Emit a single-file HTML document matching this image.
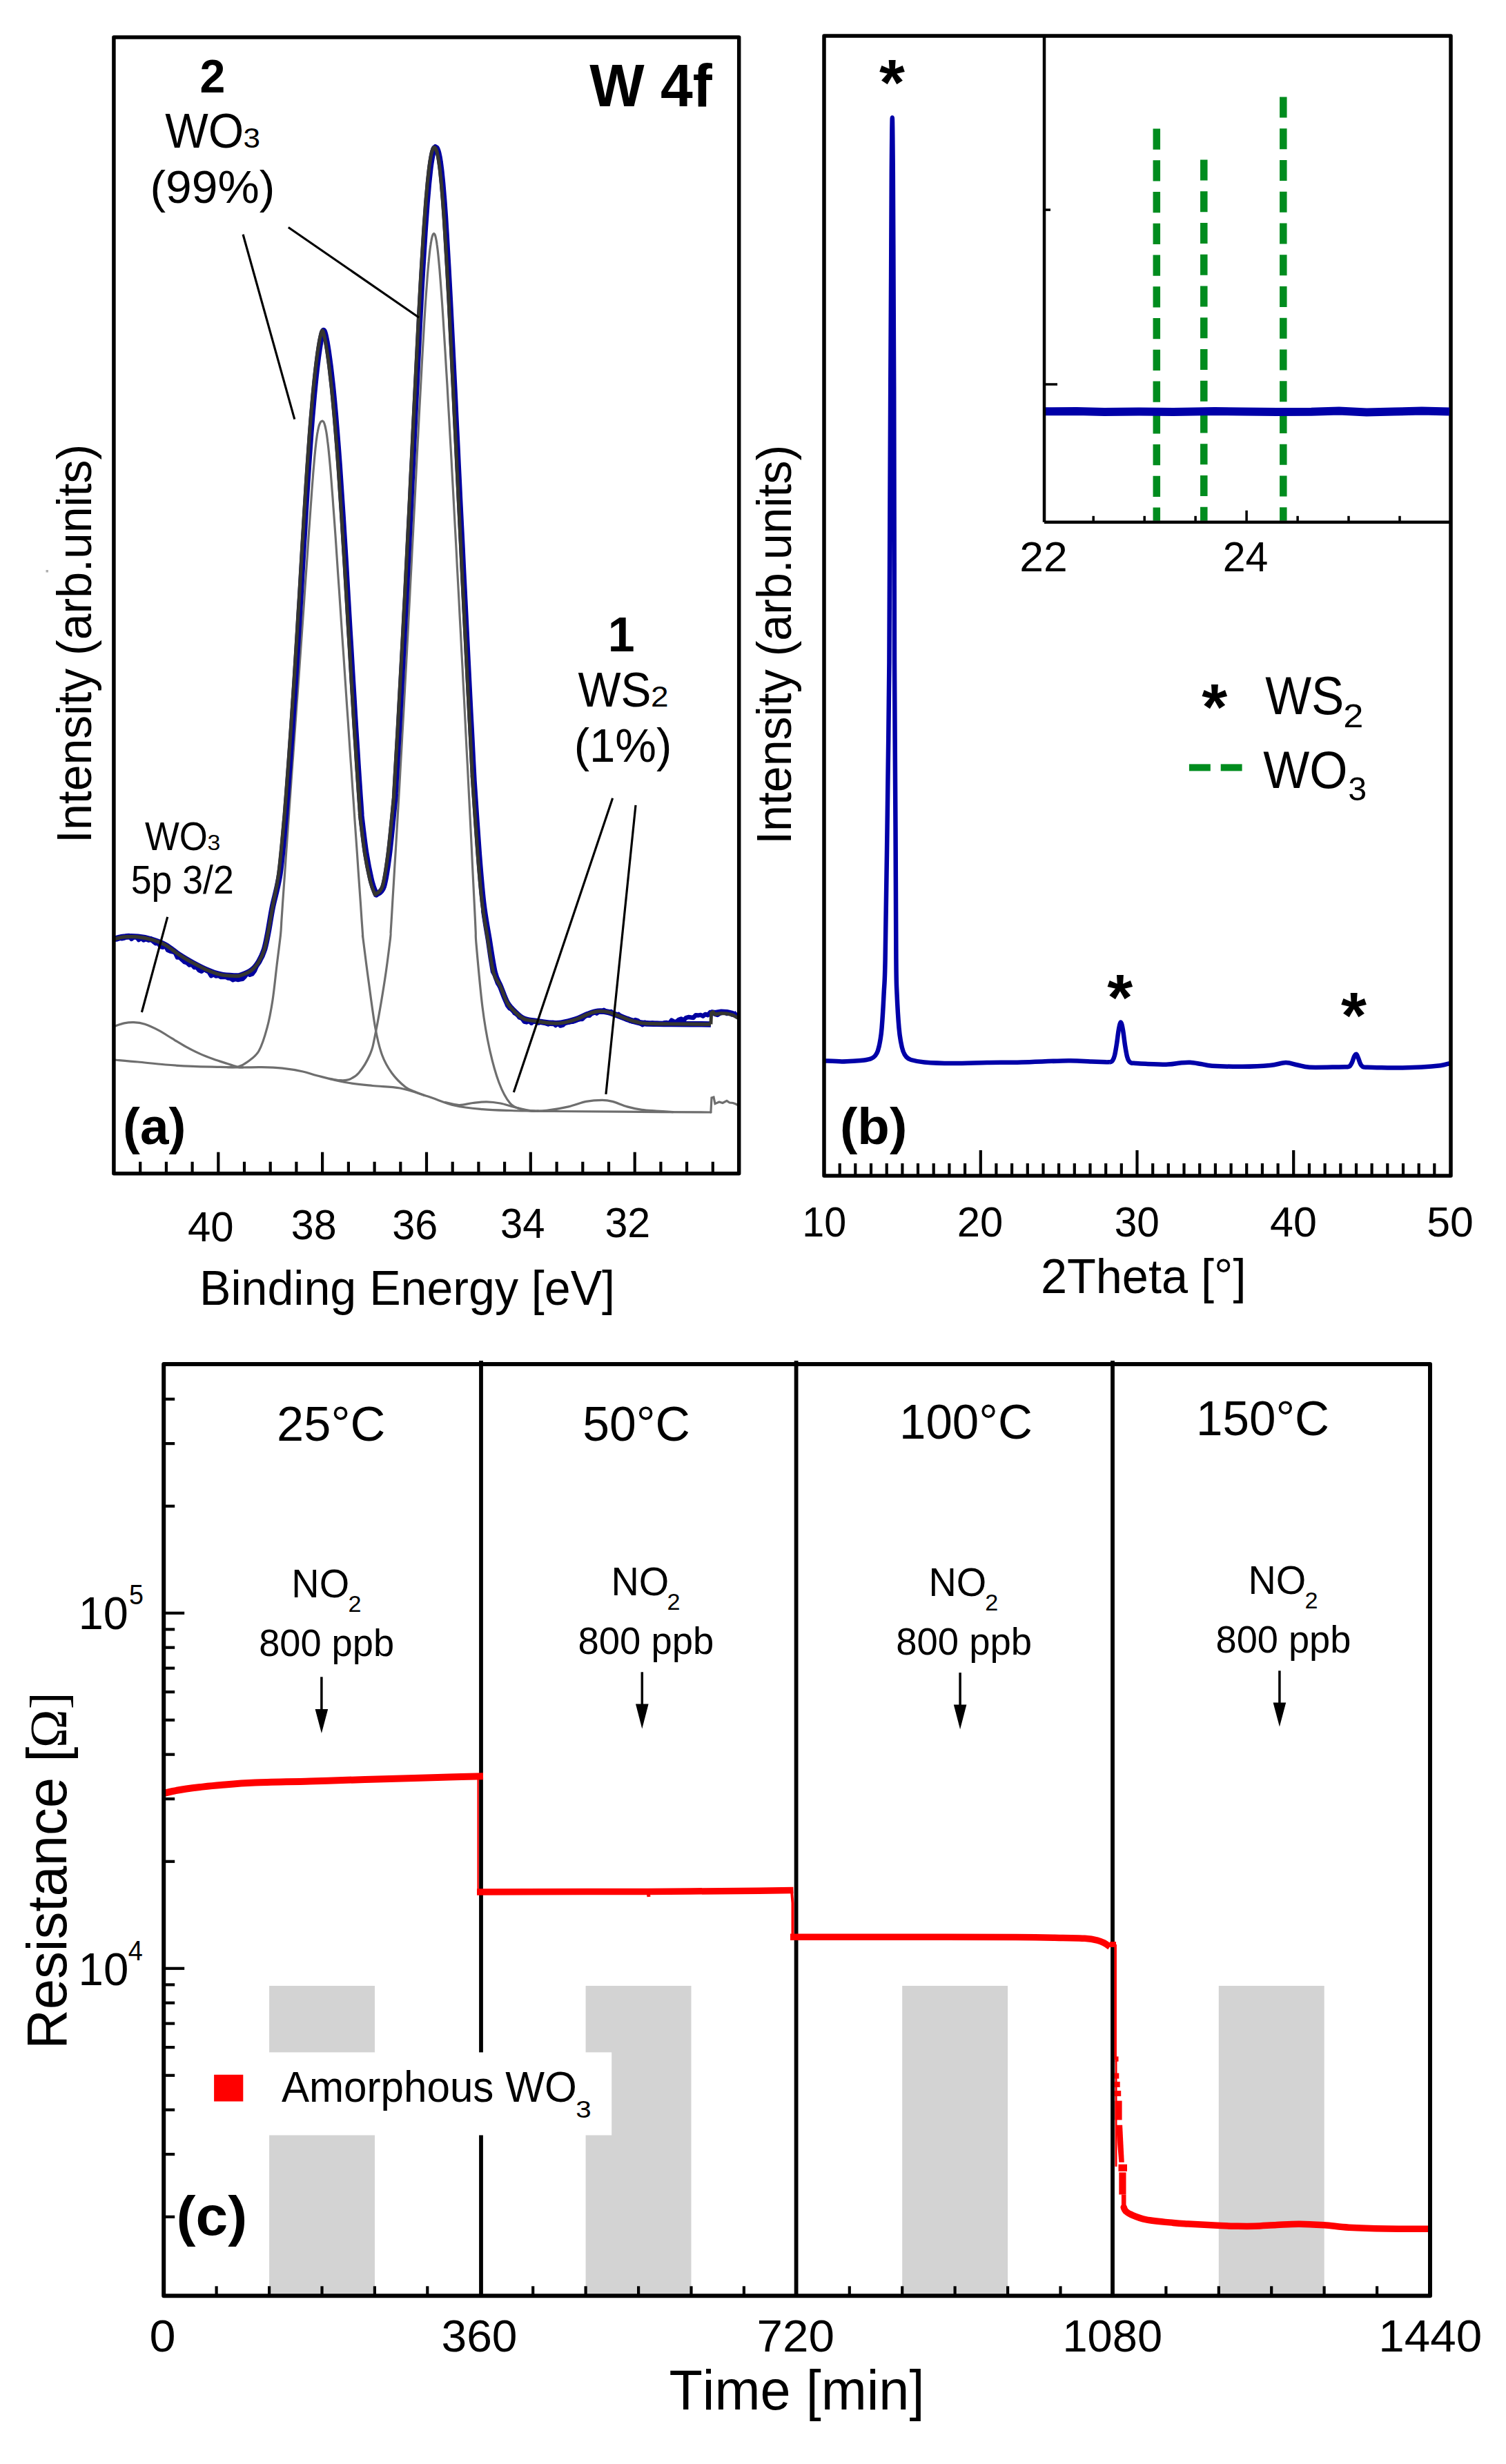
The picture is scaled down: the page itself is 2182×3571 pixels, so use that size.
<!DOCTYPE html>
<html><head><meta charset="utf-8"><title>Figure</title>
<style>html,body{margin:0;padding:0;background:#fff;}svg{display:block;}text{font-kerning:none;}</style></head>
<body><svg width="2182" height="3571" viewBox="0 0 2182 3571" font-family="Liberation Sans, Arial, sans-serif" fill="#000">
<rect width="2182" height="3571" fill="#fff"/>
<g fill="none" stroke="#6e6e6e" stroke-width="3.2" stroke-linecap="round">
<path d="M166.0,1536.0 C171.6,1536.5 187.5,1537.8 199.8,1539.0 C212.1,1540.2 226.4,1541.9 239.7,1543.0 C253.0,1544.1 266.2,1544.8 279.5,1545.4 C292.8,1546.0 308.4,1546.1 319.4,1546.4 C330.4,1546.7 335.4,1547.0 345.3,1547.0 C355.2,1547.0 368.4,1546.4 379.0,1546.6 C389.6,1546.8 399.0,1547.1 409.0,1548.2 C419.0,1549.3 430.4,1551.2 438.9,1553.0 C447.4,1554.8 449.9,1556.4 460.0,1559.0 C470.1,1561.6 486.5,1566.1 499.8,1568.5 C513.1,1570.9 526.4,1572.1 539.7,1573.5 C553.0,1574.9 566.2,1574.5 579.5,1577.0 C592.8,1579.5 606.1,1584.6 619.4,1588.8 C632.7,1593.0 645.9,1599.2 659.2,1602.3 C672.5,1605.4 685.5,1606.4 699.0,1607.6 C712.5,1608.8 723.2,1609.0 740.0,1609.5 C756.8,1610.0 773.3,1610.2 800.0,1610.5 C826.7,1610.8 861.7,1611.0 900.0,1611.2 C938.3,1611.5 1008.3,1611.9 1029.9,1612.0"/>
<path d="M1029.9,1612 L1031,1591 L1034,1590 L1036,1599.6 L1042,1597 L1047,1598.5 L1053,1595.4 L1057,1598 L1062,1598.5 L1066,1600 L1069,1601.7"/>
<path d="M166.0,1487.3 C168.3,1486.6 175.2,1483.8 179.9,1482.9 C184.6,1482.0 188.9,1481.5 193.9,1481.7 C198.9,1481.9 203.8,1482.4 209.8,1484.3 C215.8,1486.2 223.1,1489.7 229.7,1493.2 C236.3,1496.7 242.9,1501.2 249.6,1505.2 C256.2,1509.2 263.0,1513.4 269.6,1517.1 C276.2,1520.8 282.9,1524.1 289.5,1527.1 C296.1,1530.1 302.8,1532.6 309.4,1535.0 C316.0,1537.4 323.4,1539.6 329.3,1541.5 C335.2,1543.4 341.2,1545.6 345.0,1546.5 C348.8,1547.4 350.8,1546.8 352.0,1546.9"/>
<path d="M330.0,1546.6 C332.5,1546.5 340.1,1547.4 345.0,1546.0 C349.9,1544.6 354.2,1542.3 359.2,1538.5 C364.2,1534.7 370.5,1531.2 375.1,1523.0 C379.8,1514.8 383.8,1501.5 387.1,1489.2 C390.4,1476.9 392.7,1464.3 395.0,1449.4 C397.3,1434.5 399.1,1415.3 401.0,1399.6 C402.9,1383.9 405.3,1365.9 406.5,1355.0 C407.6,1344.1 407.4,1341.5 407.9,1334.0 C408.4,1326.5 409.0,1318.0 409.5,1310.0 C410.1,1302.0 410.6,1294.0 411.2,1286.0 C411.7,1278.0 412.3,1270.0 412.9,1262.0 C413.4,1254.0 414.0,1246.0 414.5,1238.0 C415.1,1230.0 415.6,1222.0 416.2,1214.0 C416.8,1206.0 417.3,1198.0 417.9,1190.0 C418.5,1182.0 419.0,1174.0 419.6,1166.0 C420.2,1158.0 420.7,1150.0 421.3,1142.0 C421.9,1134.0 422.5,1126.0 423.0,1118.0 C423.6,1110.0 424.2,1102.0 424.8,1094.0 C425.3,1086.0 425.9,1078.0 426.5,1070.0 C427.1,1062.0 427.6,1054.0 428.2,1046.0 C428.8,1038.0 429.4,1030.0 429.9,1022.0 C430.5,1014.0 431.1,1006.0 431.7,998.0 C432.2,990.0 432.8,982.0 433.4,974.0 C433.9,966.0 434.5,958.0 435.1,950.0 C435.6,942.0 436.2,934.0 436.8,926.0 C437.4,918.0 437.9,910.0 438.5,902.0 C439.0,894.0 439.6,886.0 440.2,878.0 C440.7,870.0 441.3,862.0 441.8,854.0 C442.4,846.0 443.0,838.0 443.5,830.0 C444.1,822.0 444.6,814.0 445.2,806.0 C445.7,798.0 446.3,790.0 446.8,782.0 C447.4,774.0 447.9,766.0 448.5,758.0 C449.1,750.0 449.6,742.0 450.2,734.0 C450.8,726.0 451.4,717.0 451.9,710.0 C452.4,703.0 452.8,697.7 453.3,692.0 C453.7,686.3 454.1,681.0 454.6,676.0 C455.0,671.0 455.4,666.3 455.8,662.0 C456.2,657.7 456.6,653.7 457.0,650.0 C457.4,646.3 457.8,643.0 458.1,640.0 C458.5,637.0 458.9,634.3 459.2,632.0 C459.5,629.7 459.8,627.8 460.2,626.0 C460.5,624.2 460.9,622.5 461.2,621.0 C461.5,619.5 461.9,618.2 462.2,617.0 C462.6,615.8 463.0,614.8 463.3,614.0 C463.7,613.2 464.0,612.5 464.3,612.0 C464.6,611.5 464.6,611.3 465.1,611.0 C465.6,610.7 466.8,610.2 467.1,610.0 C467.4,610.2 468.2,610.7 468.6,611.0 C469.0,611.3 469.0,611.5 469.2,612.0 C469.4,612.5 469.7,613.2 470.0,614.0 C470.3,614.8 470.6,615.8 470.9,617.0 C471.2,618.2 471.5,619.5 471.8,621.0 C472.1,622.5 472.5,624.2 472.8,626.0 C473.1,627.8 473.4,629.7 473.7,632.0 C474.0,634.3 474.4,637.0 474.7,640.0 C475.1,643.0 475.5,646.3 475.9,650.0 C476.3,653.7 476.7,657.7 477.1,662.0 C477.5,666.3 477.9,671.0 478.4,676.0 C478.8,681.0 479.3,686.3 479.7,692.0 C480.2,697.7 480.6,703.0 481.1,710.0 C481.7,717.0 482.4,726.0 482.9,734.0 C483.5,742.0 484.1,750.0 484.7,758.0 C485.2,766.0 485.8,774.0 486.4,782.0 C486.9,790.0 487.5,798.0 488.0,806.0 C488.6,814.0 489.1,822.0 489.6,830.0 C490.2,838.0 490.7,846.0 491.3,854.0 C491.8,862.0 492.4,870.0 492.9,878.0 C493.4,886.0 494.0,894.0 494.5,902.0 C495.0,910.0 495.6,918.0 496.1,926.0 C496.7,934.0 497.2,942.0 497.8,950.0 C498.3,958.0 498.8,966.0 499.4,974.0 C499.9,982.0 500.5,990.0 501.0,998.0 C501.5,1006.0 502.1,1014.0 502.6,1022.0 C503.2,1030.0 503.7,1038.0 504.3,1046.0 C504.8,1054.0 505.4,1062.0 505.9,1070.0 C506.4,1078.0 507.0,1086.0 507.5,1094.0 C508.1,1102.0 508.6,1110.0 509.2,1118.0 C509.7,1126.0 510.3,1134.0 510.8,1142.0 C511.4,1150.0 511.9,1158.0 512.5,1166.0 C513.0,1174.0 513.6,1182.0 514.1,1190.0 C514.7,1198.0 515.3,1206.0 515.8,1214.0 C516.4,1222.0 516.9,1230.0 517.5,1238.0 C518.0,1246.0 518.6,1254.0 519.1,1262.0 C519.7,1270.0 520.2,1278.0 520.8,1286.0 C521.4,1294.0 521.9,1302.0 522.5,1310.0 C523.0,1318.0 523.6,1326.0 524.1,1334.0 C524.7,1342.0 525.5,1353.7 525.8,1358.0 C526.1,1362.3 524.6,1349.8 526.0,1360.0 C527.3,1370.2 530.7,1398.0 533.7,1419.5 C536.7,1441.0 540.4,1471.0 543.7,1489.2 C547.0,1507.5 549.6,1518.0 553.6,1529.0 C557.6,1540.0 562.0,1547.2 567.6,1555.0 C573.2,1562.8 581.6,1570.8 587.5,1575.5 C593.4,1580.2 598.4,1581.0 603.0,1582.9 C607.6,1584.9 613.0,1586.7 615.0,1587.5" stroke-linejoin="round"/>
<path d="M478.0,1563.3 C480.3,1563.7 487.4,1565.4 492.0,1565.6 C496.6,1565.8 501.2,1566.3 505.8,1564.5 C510.4,1562.7 514.8,1560.9 519.8,1555.0 C524.8,1549.1 531.7,1538.3 535.7,1529.0 C539.7,1519.7 540.1,1517.5 543.7,1499.2 C547.4,1481.0 554.0,1442.7 557.6,1419.5 C561.2,1396.3 564.1,1371.5 565.5,1360.0 C566.9,1348.5 565.8,1356.1 566.1,1350.5 C566.5,1344.9 567.1,1334.5 567.6,1326.5 C568.1,1318.5 568.6,1310.5 569.0,1302.5 C569.5,1294.5 570.0,1286.5 570.5,1278.5 C571.0,1270.5 571.5,1262.5 571.9,1254.5 C572.4,1246.5 572.9,1238.5 573.4,1230.5 C573.8,1222.5 574.3,1214.5 574.8,1206.5 C575.2,1198.5 575.7,1190.5 576.2,1182.5 C576.6,1174.5 577.1,1166.5 577.6,1158.5 C578.0,1150.5 578.5,1142.5 579.0,1134.5 C579.4,1126.5 579.9,1118.5 580.3,1110.5 C580.8,1102.5 581.2,1094.5 581.7,1086.5 C582.1,1078.5 582.6,1070.5 583.0,1062.5 C583.5,1054.5 583.9,1046.5 584.4,1038.5 C584.8,1030.5 585.2,1022.5 585.7,1014.5 C586.1,1006.5 586.5,998.5 587.0,990.5 C587.4,982.5 587.8,974.5 588.3,966.5 C588.7,958.5 589.1,950.5 589.6,942.5 C590.0,934.5 590.4,926.5 590.9,918.5 C591.3,910.5 591.7,902.5 592.1,894.5 C592.6,886.5 593.0,878.5 593.4,870.5 C593.8,862.5 594.2,854.5 594.6,846.5 C595.1,838.5 595.5,830.5 595.9,822.5 C596.3,814.5 596.7,806.5 597.1,798.5 C597.6,790.5 598.0,782.5 598.4,774.5 C598.8,766.5 599.2,758.5 599.6,750.5 C600.0,742.5 600.4,734.5 600.9,726.5 C601.3,718.5 601.7,710.5 602.1,702.5 C602.5,694.5 602.9,686.5 603.3,678.5 C603.7,670.5 604.1,662.5 604.5,654.5 C605.0,646.5 605.4,638.5 605.8,630.5 C606.2,622.5 606.6,614.5 607.0,606.5 C607.4,598.5 607.9,590.5 608.3,582.5 C608.7,574.5 609.1,566.5 609.6,558.5 C610.0,550.5 610.4,542.5 610.9,534.5 C611.3,526.5 611.7,518.5 612.2,510.5 C612.6,502.5 613.1,494.5 613.6,486.5 C614.0,478.5 614.5,470.5 615.0,462.5 C615.5,454.5 616.1,445.5 616.5,438.5 C617.0,431.5 617.4,426.2 617.8,420.5 C618.2,414.8 618.6,409.5 619.0,404.5 C619.3,399.5 619.7,394.8 620.1,390.5 C620.5,386.2 620.8,382.2 621.2,378.5 C621.5,374.8 621.9,371.5 622.2,368.5 C622.5,365.5 622.8,362.8 623.1,360.5 C623.4,358.2 623.7,356.3 624.0,354.5 C624.2,352.7 624.5,351.0 624.8,349.5 C625.0,348.0 625.3,346.7 625.6,345.5 C625.8,344.3 626.1,343.3 626.3,342.5 C626.6,341.7 626.8,341.0 627.0,340.5 C627.2,340.0 627.2,339.8 627.5,339.5 C627.8,339.2 628.5,338.7 628.7,338.5 C628.9,338.7 629.5,339.2 629.8,339.5 C630.1,339.8 630.1,340.0 630.2,340.5 C630.4,341.0 630.7,341.7 630.9,342.5 C631.1,343.3 631.4,344.3 631.6,345.5 C631.8,346.7 632.1,348.0 632.4,349.5 C632.6,351.0 632.9,352.7 633.1,354.5 C633.4,356.3 633.6,358.2 633.9,360.5 C634.2,362.8 634.5,365.5 634.8,368.5 C635.1,371.5 635.4,374.8 635.8,378.5 C636.1,382.2 636.5,386.2 636.9,390.5 C637.2,394.8 637.6,399.5 638.0,404.5 C638.4,409.5 638.8,414.8 639.2,420.5 C639.6,426.2 640.0,431.5 640.5,438.5 C641.0,445.5 641.6,454.5 642.1,462.5 C642.6,470.5 643.1,478.5 643.6,486.5 C644.1,494.5 644.6,502.5 645.1,510.5 C645.6,518.5 646.1,526.5 646.5,534.5 C647.0,542.5 647.5,550.5 648.0,558.5 C648.4,566.5 648.9,574.5 649.3,582.5 C649.8,590.5 650.2,598.5 650.7,606.5 C651.1,614.5 651.6,622.5 652.0,630.5 C652.5,638.5 652.9,646.5 653.4,654.5 C653.8,662.5 654.3,670.5 654.7,678.5 C655.1,686.5 655.6,694.5 656.0,702.5 C656.4,710.5 656.9,718.5 657.3,726.5 C657.7,734.5 658.2,742.5 658.6,750.5 C659.0,758.5 659.5,766.5 659.9,774.5 C660.3,782.5 660.7,790.5 661.2,798.5 C661.6,806.5 662.0,814.5 662.4,822.5 C662.9,830.5 663.3,838.5 663.7,846.5 C664.1,854.5 664.6,862.5 665.0,870.5 C665.4,878.5 665.8,886.5 666.2,894.5 C666.6,902.5 667.1,910.5 667.5,918.5 C667.9,926.5 668.3,934.5 668.7,942.5 C669.2,950.5 669.6,958.5 670.0,966.5 C670.4,974.5 670.8,982.5 671.2,990.5 C671.6,998.5 672.0,1006.5 672.5,1014.5 C672.9,1022.5 673.3,1030.5 673.7,1038.5 C674.1,1046.5 674.5,1054.5 674.9,1062.5 C675.3,1070.5 675.7,1078.5 676.1,1086.5 C676.5,1094.5 676.9,1102.5 677.4,1110.5 C677.8,1118.5 678.2,1126.5 678.6,1134.5 C679.0,1142.5 679.4,1150.5 679.8,1158.5 C680.2,1166.5 680.6,1174.5 681.0,1182.5 C681.4,1190.5 681.8,1198.5 682.2,1206.5 C682.6,1214.5 683.0,1222.5 683.4,1230.5 C683.7,1238.5 684.1,1246.5 684.5,1254.5 C684.9,1262.5 685.3,1270.5 685.7,1278.5 C686.1,1286.5 686.5,1294.5 686.9,1302.5 C687.3,1310.5 687.7,1318.5 688.1,1326.5 C688.5,1334.5 688.9,1343.2 689.2,1350.5 C689.6,1357.8 688.6,1351.8 690.2,1370.0 C691.8,1388.2 695.9,1434.6 699.0,1459.4 C702.1,1484.2 705.0,1500.7 709.0,1519.0 C713.0,1537.3 718.0,1555.7 723.0,1569.0 C728.0,1582.3 733.6,1592.4 738.9,1598.8 C744.2,1605.2 749.0,1605.6 755.0,1607.5 C761.0,1609.4 771.7,1609.7 775.0,1610.1" stroke-linejoin="round"/>
<path d="M645.0,1597.5 C648.3,1598.2 658.3,1601.3 665.0,1601.5 C671.7,1601.7 678.3,1599.3 685.0,1598.5 C691.7,1597.7 698.3,1596.7 705.0,1596.8 C711.7,1596.9 718.3,1597.7 725.0,1599.0 C731.7,1600.3 737.8,1602.7 745.0,1604.5 C752.2,1606.3 762.2,1608.7 768.0,1609.7 C773.8,1610.6 778.0,1610.1 780.0,1610.2"/>
<path d="M770.0,1610.0 C773.6,1609.9 782.9,1610.4 791.9,1609.4 C800.9,1608.4 814.2,1606.1 823.7,1603.9 C833.2,1601.7 841.1,1598.0 849.2,1596.4 C857.4,1594.8 866.2,1594.3 872.6,1594.3 C879.0,1594.3 881.5,1594.8 887.5,1596.4 C893.5,1598.0 901.6,1601.9 908.7,1603.9 C915.8,1605.9 922.9,1607.4 930.0,1608.4 C937.1,1609.4 943.7,1609.5 951.2,1610.0 C958.7,1610.5 971.0,1611.4 975.0,1611.7"/>
</g>
<g fill="none" stroke="#0000a0" stroke-linejoin="round">
<path d="M166.0,1360.2 L169.5,1361.3 L173.0,1359.5 L176.5,1360.2 L180.0,1359.6 L183.5,1356.2 L187.0,1355.9 L190.5,1360.8 L194.0,1357.4 L197.5,1357.2 L201.0,1362.0 L204.5,1359.6 L208.0,1362.5 L211.5,1361.0 L215.0,1362.7 L218.5,1360.4 L222.0,1364.5 L225.5,1367.3 L229.0,1366.6 L232.5,1371.8 L236.0,1372.8 L239.5,1370.5 L243.0,1377.1 L246.5,1378.5 L250.0,1379.3 L253.5,1380.1 L257.0,1387.6 L260.5,1387.6 L264.0,1391.1 L267.5,1394.2 L271.0,1395.3 L274.5,1398.6 L278.0,1397.6 L281.5,1401.9 L285.0,1401.5 L288.5,1406.2 L292.0,1407.7 L295.5,1404.7 L299.0,1406.7 L302.5,1408.5 L306.0,1414.2 L309.5,1412.2 L313.0,1414.6 L316.5,1413.8 L320.0,1416.1 L323.5,1415.7 L327.0,1415.9 L330.5,1417.6 L334.0,1418.0 L337.5,1420.2 L341.0,1418.9 L344.5,1420.0 L348.0,1419.3 L351.5,1418.8 L355.0,1415.2 L358.5,1410.4 L362.0,1412.8 L365.5,1411.5 L369.0,1406.9 L372.5,1398.2 L376.0,1393.9 L379.5,1383.0 L383.0,1378.9" stroke-width="6.5"/>
<path d="M700.0,1318.9 L703.5,1341.7 L707.0,1362.5 L710.5,1387.0 L714.0,1408.2 L717.5,1414.5 L721.0,1425.0 L724.5,1430.1 L728.0,1437.0 L731.5,1446.2 L735.0,1456.9 L738.5,1461.4 L742.0,1461.3 L745.5,1468.3 L749.0,1468.6 L752.5,1474.5 L756.0,1475.2 L759.5,1480.5 L763.0,1481.4 L766.5,1479.6 L770.0,1482.7 L773.5,1479.8 L777.0,1479.3 L780.5,1482.5 L784.0,1480.2 L787.5,1481.5 L791.0,1483.0 L794.5,1484.5 L798.0,1482.5 L801.5,1481.9 L805.0,1486.0 L808.5,1483.3 L812.0,1486.5 L815.5,1485.6 L819.0,1482.1 L822.5,1481.7 L826.0,1481.1 L829.5,1480.8 L833.0,1479.7 L836.5,1478.3 L840.0,1477.1 L843.5,1477.1 L847.0,1473.5 L850.5,1471.5 L854.0,1471.8 L857.5,1468.4 L861.0,1466.2 L864.5,1468.6 L868.0,1465.9 L871.5,1466.3 L875.0,1463.9 L878.5,1466.2 L882.0,1467.5 L885.5,1466.0 L889.0,1470.2 L892.5,1471.5 L896.0,1469.9 L899.5,1474.1 L903.0,1474.6 L906.5,1476.9 L910.0,1476.6 L913.5,1479.7 L917.0,1480.7 L920.5,1478.0 L924.0,1479.0 L927.5,1483.0 L931.0,1485.1 L934.5,1481.7 L938.0,1482.9 L941.5,1483.8 L945.0,1482.6 L948.5,1483.0 L952.0,1482.9 L955.5,1483.2 L959.0,1484.4 L962.5,1482.3 L966.0,1482.0 L969.5,1483.2 L973.0,1478.7 L976.5,1480.6 L980.0,1480.7 L983.5,1477.8 L987.0,1476.5 L990.5,1478.7 L994.0,1475.1 L997.5,1474.0 L1001.0,1474.5 L1004.5,1475.0 L1008.0,1471.3 L1011.5,1471.6 L1015.0,1470.9 L1018.5,1472.6 L1022.0,1469.9 L1025.5,1471.2 L1029.0,1467.0 L1032.5,1468.2 L1036.0,1469.8 L1039.5,1470.9 L1043.0,1468.8 L1046.5,1467.6 L1050.0,1467.1 L1053.5,1469.1 L1057.0,1467.5 L1060.5,1470.5 L1064.0,1470.7 L1067.5,1467.4" stroke-width="6.5"/>
<path d="M166.0,1360.8 C168.3,1360.3 174.3,1358.3 179.9,1357.8 C185.5,1357.3 193.2,1357.1 199.8,1357.8 C206.5,1358.5 213.2,1359.8 219.8,1361.8 C226.5,1363.8 233.1,1366.0 239.7,1369.7 C246.3,1373.4 253.0,1379.4 259.6,1383.7 C266.2,1388.0 272.9,1391.9 279.5,1395.6 C286.1,1399.2 292.8,1402.8 299.4,1405.6 C306.0,1408.4 312.8,1411.0 319.4,1412.5 C326.0,1414.0 334.3,1414.3 339.3,1414.5 C344.3,1414.7 344.9,1415.0 349.2,1413.5 C353.5,1412.0 360.9,1408.9 365.2,1405.6 C369.5,1402.3 372.1,1398.6 375.1,1393.6 C378.1,1388.6 380.9,1382.8 383.1,1375.7 C385.3,1368.6 386.5,1361.3 388.5,1351.0 C390.5,1340.7 392.1,1328.4 395.0,1314.0 C397.9,1299.6 402.6,1286.1 405.7,1264.6 C408.8,1243.1 412.2,1199.3 413.6,1185.0 C415.0,1170.7 413.7,1184.0 414.1,1179.0 C414.5,1174.0 415.3,1163.0 416.0,1155.0 C416.6,1147.0 417.2,1139.0 417.8,1131.0 C418.4,1123.0 419.0,1115.0 419.6,1107.0 C420.2,1099.0 420.7,1091.0 421.3,1083.0 C421.9,1075.0 422.4,1067.0 423.0,1059.0 C423.5,1051.0 424.1,1043.0 424.6,1035.0 C425.2,1027.0 425.7,1019.0 426.2,1011.0 C426.8,1003.0 427.3,995.0 427.8,987.0 C428.3,979.0 428.8,971.0 429.3,963.0 C429.8,955.0 430.3,947.0 430.8,939.0 C431.3,931.0 431.8,923.0 432.3,915.0 C432.8,907.0 433.2,899.0 433.7,891.0 C434.2,883.0 434.7,875.0 435.2,867.0 C435.6,859.0 436.1,851.0 436.6,843.0 C437.1,835.0 437.5,827.0 438.0,819.0 C438.5,811.0 439.0,803.0 439.4,795.0 C439.9,787.0 440.4,779.0 440.9,771.0 C441.3,763.0 441.8,755.0 442.3,747.0 C442.8,739.0 443.3,731.0 443.8,723.0 C444.3,715.0 444.8,707.0 445.3,699.0 C445.8,691.0 446.4,683.0 446.9,675.0 C447.5,667.0 448.0,659.0 448.6,651.0 C449.2,643.0 449.7,635.0 450.3,627.0 C450.9,619.0 451.6,611.0 452.2,603.0 C452.9,595.0 453.7,586.0 454.3,579.0 C454.9,572.0 455.4,566.7 456.0,561.0 C456.5,555.3 457.1,550.0 457.6,545.0 C458.2,540.0 458.7,535.3 459.2,531.0 C459.7,526.7 460.2,522.7 460.7,519.0 C461.2,515.3 461.6,512.0 462.1,509.0 C462.5,506.0 462.9,503.3 463.3,501.0 C463.7,498.7 464.0,496.8 464.3,495.0 C464.6,493.2 465.0,491.5 465.3,490.0 C465.6,488.5 465.9,487.2 466.2,486.0 C466.4,484.8 466.7,483.8 466.9,483.0 C467.2,482.2 467.4,481.5 467.6,481.0 C467.7,480.5 467.8,480.3 468.0,480.0 C468.2,479.7 468.7,479.2 468.8,479.0 C468.9,479.2 469.4,479.7 469.6,480.0 C469.8,480.3 469.8,480.5 470.0,481.0 C470.2,481.5 470.4,482.2 470.6,483.0 C470.9,483.8 471.1,484.8 471.4,486.0 C471.7,487.2 472.0,488.5 472.3,490.0 C472.6,491.5 472.9,493.2 473.3,495.0 C473.6,496.8 473.9,498.7 474.3,501.0 C474.7,503.3 475.1,506.0 475.6,509.0 C476.0,512.0 476.5,515.3 477.0,519.0 C477.5,522.7 478.0,526.7 478.6,531.0 C479.1,535.3 479.7,540.0 480.2,545.0 C480.8,550.0 481.4,555.3 482.0,561.0 C482.6,566.7 483.1,572.0 483.8,579.0 C484.4,586.0 485.3,595.0 486.0,603.0 C486.7,611.0 487.3,619.0 488.0,627.0 C488.6,635.0 489.3,643.0 489.9,651.0 C490.5,659.0 491.1,667.0 491.7,675.0 C492.2,683.0 492.8,691.0 493.3,699.0 C493.9,707.0 494.4,715.0 494.9,723.0 C495.5,731.0 496.0,739.0 496.5,747.0 C497.0,755.0 497.5,763.0 498.0,771.0 C498.5,779.0 499.0,787.0 499.5,795.0 C500.0,803.0 500.5,811.0 501.0,819.0 C501.4,827.0 501.9,835.0 502.4,843.0 C502.9,851.0 503.3,859.0 503.8,867.0 C504.3,875.0 504.8,883.0 505.2,891.0 C505.7,899.0 506.2,907.0 506.6,915.0 C507.1,923.0 507.6,931.0 508.1,939.0 C508.5,947.0 509.0,955.0 509.5,963.0 C510.0,971.0 510.4,979.0 510.9,987.0 C511.4,995.0 511.9,1003.0 512.4,1011.0 C512.9,1019.0 513.4,1027.0 513.8,1035.0 C514.3,1043.0 514.8,1051.0 515.3,1059.0 C515.9,1067.0 516.4,1075.0 516.9,1083.0 C517.4,1091.0 517.9,1099.0 518.4,1107.0 C518.9,1115.0 519.5,1123.0 520.0,1131.0 C520.5,1139.0 521.1,1147.0 521.6,1155.0 C522.2,1163.0 522.9,1174.0 523.3,1179.0 C523.6,1184.0 522.5,1175.2 523.7,1185.0 C524.9,1194.8 528.0,1222.5 530.5,1238.0 C533.0,1253.5 536.1,1268.2 538.5,1278.0 C540.9,1287.8 544.0,1293.4 545.1,1296.5 C546.9,1294.5 552.7,1294.3 555.8,1284.6 C558.9,1274.8 561.1,1259.0 563.8,1238.0 C566.5,1217.0 570.6,1172.5 572.0,1158.4 C573.5,1144.3 572.0,1158.3 572.3,1153.5 C572.6,1148.7 573.3,1137.5 573.7,1129.5 C574.2,1121.5 574.7,1113.5 575.1,1105.5 C575.6,1097.5 576.1,1089.5 576.5,1081.5 C577.0,1073.5 577.4,1065.5 577.9,1057.5 C578.3,1049.5 578.8,1041.5 579.2,1033.5 C579.6,1025.5 580.1,1017.5 580.5,1009.5 C581.0,1001.5 581.4,993.5 581.8,985.5 C582.3,977.5 582.7,969.5 583.1,961.5 C583.6,953.5 584.0,945.5 584.4,937.5 C584.8,929.5 585.3,921.5 585.7,913.5 C586.1,905.5 586.5,897.5 586.9,889.5 C587.3,881.5 587.8,873.5 588.2,865.5 C588.6,857.5 589.0,849.5 589.4,841.5 C589.8,833.5 590.2,825.5 590.6,817.5 C591.0,809.5 591.4,801.5 591.8,793.5 C592.2,785.5 592.6,777.5 593.0,769.5 C593.4,761.5 593.8,753.5 594.2,745.5 C594.6,737.5 595.0,729.5 595.4,721.5 C595.8,713.5 596.1,705.5 596.5,697.5 C596.9,689.5 597.3,681.5 597.7,673.5 C598.1,665.5 598.5,657.5 598.9,649.5 C599.3,641.5 599.7,633.5 600.0,625.5 C600.4,617.5 600.8,609.5 601.2,601.5 C601.6,593.5 602.0,585.5 602.4,577.5 C602.8,569.5 603.2,561.5 603.6,553.5 C604.0,545.5 604.4,537.5 604.8,529.5 C605.2,521.5 605.6,513.5 606.0,505.5 C606.4,497.5 606.8,489.5 607.2,481.5 C607.6,473.5 608.0,465.5 608.4,457.5 C608.9,449.5 609.3,441.5 609.7,433.5 C610.2,425.5 610.6,417.5 611.0,409.5 C611.5,401.5 611.9,393.5 612.4,385.5 C612.9,377.5 613.4,369.5 613.9,361.5 C614.4,353.5 614.9,345.5 615.4,337.5 C615.9,329.5 616.6,320.5 617.1,313.5 C617.6,306.5 618.0,301.2 618.4,295.5 C618.9,289.8 619.3,284.5 619.8,279.5 C620.2,274.5 620.6,269.8 621.0,265.5 C621.5,261.2 621.9,257.2 622.3,253.5 C622.7,249.8 623.1,246.5 623.4,243.5 C623.8,240.5 624.2,237.8 624.5,235.5 C624.9,233.2 625.2,231.3 625.5,229.5 C625.8,227.7 626.1,226.0 626.4,224.5 C626.7,223.0 627.0,221.7 627.3,220.5 C627.6,219.3 627.9,218.3 628.2,217.5 C628.4,216.7 628.7,216.0 628.9,215.5 C629.2,215.0 629.2,214.8 629.5,214.5 C629.8,214.2 630.6,213.7 630.8,213.5 C631.1,213.7 632.0,214.2 632.4,214.5 C632.8,214.8 632.8,215.0 633.0,215.5 C633.3,216.0 633.6,216.7 633.9,217.5 C634.2,218.3 634.5,219.3 634.9,220.5 C635.2,221.7 635.5,223.0 635.8,224.5 C636.1,226.0 636.5,227.7 636.8,229.5 C637.1,231.3 637.4,233.2 637.7,235.5 C638.1,237.8 638.4,240.5 638.8,243.5 C639.2,246.5 639.6,249.8 639.9,253.5 C640.3,257.2 640.7,261.2 641.1,265.5 C641.5,269.8 641.9,274.5 642.3,279.5 C642.7,284.5 643.2,289.8 643.6,295.5 C644.0,301.2 644.4,306.5 644.9,313.5 C645.3,320.5 645.9,329.5 646.4,337.5 C646.9,345.5 647.4,353.5 647.8,361.5 C648.3,369.5 648.8,377.5 649.2,385.5 C649.7,393.5 650.1,401.5 650.5,409.5 C650.9,417.5 651.4,425.5 651.8,433.5 C652.2,441.5 652.6,449.5 653.0,457.5 C653.4,465.5 653.8,473.5 654.2,481.5 C654.6,489.5 655.0,497.5 655.4,505.5 C655.8,513.5 656.2,521.5 656.6,529.5 C657.0,537.5 657.4,545.5 657.8,553.5 C658.2,561.5 658.6,569.5 659.0,577.5 C659.4,585.5 659.7,593.5 660.1,601.5 C660.5,609.5 660.9,617.5 661.3,625.5 C661.7,633.5 662.1,641.5 662.5,649.5 C662.8,657.5 663.2,665.5 663.6,673.5 C664.0,681.5 664.4,689.5 664.8,697.5 C665.2,705.5 665.6,713.5 665.9,721.5 C666.3,729.5 666.7,737.5 667.1,745.5 C667.5,753.5 667.9,761.5 668.3,769.5 C668.7,777.5 669.1,785.5 669.5,793.5 C669.9,801.5 670.2,809.5 670.6,817.5 C671.0,825.5 671.4,833.5 671.8,841.5 C672.2,849.5 672.6,857.5 673.0,865.5 C673.4,873.5 673.8,881.5 674.2,889.5 C674.6,897.5 675.0,905.5 675.4,913.5 C675.8,921.5 676.2,929.5 676.6,937.5 C677.0,945.5 677.4,953.5 677.8,961.5 C678.2,969.5 678.6,977.5 679.0,985.5 C679.4,993.5 679.8,1001.5 680.2,1009.5 C680.6,1017.5 681.0,1025.5 681.4,1033.5 C681.8,1041.5 682.3,1049.5 682.7,1057.5 C683.1,1065.5 683.5,1073.5 683.9,1081.5 C684.3,1089.5 684.7,1097.5 685.1,1105.5 C685.5,1113.5 686.2,1125.1 686.4,1129.5 C686.6,1133.9 685.2,1113.7 686.5,1131.8 C687.8,1149.9 691.6,1208.5 693.9,1238.0 C696.2,1267.5 697.9,1288.7 700.3,1309.0 C702.7,1329.3 705.5,1343.0 708.3,1359.8 C711.0,1376.6 714.0,1398.0 716.8,1409.6 C719.6,1421.2 722.0,1422.2 725.0,1429.5 C728.0,1436.8 731.2,1447.1 734.9,1453.4 C738.5,1459.7 742.7,1463.4 746.9,1467.3 C751.1,1471.2 754.3,1474.8 760.0,1477.0 C765.7,1479.2 775.2,1479.6 781.2,1480.6 C787.2,1481.5 790.8,1482.3 796.1,1482.7 C801.4,1483.1 806.7,1483.6 813.1,1482.7 C819.5,1481.8 828.0,1479.5 834.4,1477.4 C840.8,1475.3 846.1,1472.0 851.4,1470.0 C856.7,1468.0 861.2,1466.2 866.2,1465.7 C871.2,1465.2 876.1,1465.7 881.1,1466.8 C886.1,1467.9 890.7,1470.1 896.0,1472.1 C901.3,1474.0 907.3,1476.7 913.0,1478.5 C918.7,1480.3 923.6,1481.8 930.0,1482.7 C936.4,1483.6 944.1,1483.6 951.2,1483.8 C958.3,1484.0 959.4,1483.9 972.5,1484.0 C985.6,1484.1 1020.3,1484.3 1029.9,1484.4" stroke-width="8.5"/>
<path d="M1030,1466 L1036,1467 L1045,1465.5 L1053.2,1466 L1061.7,1468 L1069.2,1472.3" stroke-width="6"/>
</g>
<path d="M166.0,1360.8 C168.3,1360.3 174.3,1358.3 179.9,1357.8 C185.5,1357.3 193.2,1357.1 199.8,1357.8 C206.5,1358.5 213.2,1359.8 219.8,1361.8 C226.5,1363.8 233.1,1366.0 239.7,1369.7 C246.3,1373.4 253.0,1379.4 259.6,1383.7 C266.2,1388.0 272.9,1391.9 279.5,1395.6 C286.1,1399.2 292.8,1402.8 299.4,1405.6 C306.0,1408.4 312.8,1411.0 319.4,1412.5 C326.0,1414.0 334.3,1414.3 339.3,1414.5 C344.3,1414.7 344.9,1415.0 349.2,1413.5 C353.5,1412.0 360.9,1408.9 365.2,1405.6 C369.5,1402.3 372.1,1398.6 375.1,1393.6 C378.1,1388.6 380.9,1382.8 383.1,1375.7 C385.3,1368.6 386.5,1361.3 388.5,1351.0 C390.5,1340.7 392.4,1328.4 395.0,1314.0 C397.6,1299.6 401.1,1286.1 403.9,1264.6 C406.7,1243.1 410.4,1199.3 411.8,1185.0 C413.2,1170.7 411.9,1184.0 412.3,1179.0 C412.7,1174.0 413.5,1163.0 414.2,1155.0 C414.8,1147.0 415.4,1139.0 416.0,1131.0 C416.6,1123.0 417.2,1115.0 417.8,1107.0 C418.4,1099.0 418.9,1091.0 419.5,1083.0 C420.1,1075.0 420.6,1067.0 421.2,1059.0 C421.7,1051.0 422.3,1043.0 422.8,1035.0 C423.4,1027.0 423.9,1019.0 424.4,1011.0 C425.0,1003.0 425.5,995.0 426.0,987.0 C426.5,979.0 427.0,971.0 427.5,963.0 C428.0,955.0 428.5,947.0 429.0,939.0 C429.5,931.0 430.0,923.0 430.5,915.0 C431.0,907.0 431.4,899.0 431.9,891.0 C432.4,883.0 432.9,875.0 433.4,867.0 C433.8,859.0 434.3,851.0 434.8,843.0 C435.3,835.0 435.7,827.0 436.2,819.0 C436.7,811.0 437.2,803.0 437.6,795.0 C438.1,787.0 438.6,779.0 439.1,771.0 C439.5,763.0 440.0,755.0 440.5,747.0 C441.0,739.0 441.5,731.0 442.0,723.0 C442.5,715.0 443.0,707.0 443.5,699.0 C444.0,691.0 444.6,683.0 445.1,675.0 C445.7,667.0 446.2,659.0 446.8,651.0 C447.4,643.0 447.9,635.0 448.5,627.0 C449.1,619.0 449.8,611.0 450.4,603.0 C451.1,595.0 451.9,586.0 452.5,579.0 C453.1,572.0 453.6,566.7 454.2,561.0 C454.7,555.3 455.3,550.0 455.8,545.0 C456.4,540.0 456.9,535.3 457.4,531.0 C457.9,526.7 458.4,522.7 458.9,519.0 C459.4,515.3 459.8,512.0 460.3,509.0 C460.7,506.0 461.1,503.3 461.5,501.0 C461.9,498.7 462.2,496.8 462.5,495.0 C462.8,493.2 463.2,491.5 463.5,490.0 C463.8,488.5 464.1,487.2 464.4,486.0 C464.6,484.8 464.9,483.8 465.1,483.0 C465.4,482.2 465.6,481.5 465.8,481.0 C465.9,480.5 466.0,480.3 466.2,480.0 C466.4,479.7 466.9,479.2 467.0,479.0 C467.1,479.2 467.6,479.7 467.8,480.0 C468.0,480.3 468.0,480.5 468.2,481.0 C468.4,481.5 468.6,482.2 468.8,483.0 C469.1,483.8 469.3,484.8 469.6,486.0 C469.9,487.2 470.2,488.5 470.5,490.0 C470.8,491.5 471.1,493.2 471.5,495.0 C471.8,496.8 472.1,498.7 472.5,501.0 C472.9,503.3 473.3,506.0 473.8,509.0 C474.2,512.0 474.7,515.3 475.2,519.0 C475.7,522.7 476.2,526.7 476.8,531.0 C477.3,535.3 477.9,540.0 478.4,545.0 C479.0,550.0 479.6,555.3 480.2,561.0 C480.8,566.7 481.3,572.0 482.0,579.0 C482.6,586.0 483.5,595.0 484.2,603.0 C484.9,611.0 485.5,619.0 486.2,627.0 C486.8,635.0 487.5,643.0 488.1,651.0 C488.7,659.0 489.3,667.0 489.9,675.0 C490.4,683.0 491.0,691.0 491.5,699.0 C492.1,707.0 492.6,715.0 493.1,723.0 C493.7,731.0 494.2,739.0 494.7,747.0 C495.2,755.0 495.7,763.0 496.2,771.0 C496.7,779.0 497.2,787.0 497.7,795.0 C498.2,803.0 498.7,811.0 499.2,819.0 C499.6,827.0 500.1,835.0 500.6,843.0 C501.1,851.0 501.5,859.0 502.0,867.0 C502.5,875.0 503.0,883.0 503.4,891.0 C503.9,899.0 504.4,907.0 504.8,915.0 C505.3,923.0 505.8,931.0 506.3,939.0 C506.7,947.0 507.2,955.0 507.7,963.0 C508.2,971.0 508.6,979.0 509.1,987.0 C509.6,995.0 510.1,1003.0 510.6,1011.0 C511.1,1019.0 511.6,1027.0 512.0,1035.0 C512.5,1043.0 513.0,1051.0 513.5,1059.0 C514.1,1067.0 514.6,1075.0 515.1,1083.0 C515.6,1091.0 516.1,1099.0 516.6,1107.0 C517.1,1115.0 517.7,1123.0 518.2,1131.0 C518.7,1139.0 519.3,1147.0 519.8,1155.0 C520.4,1163.0 521.1,1174.0 521.5,1179.0 C521.8,1184.0 520.7,1175.2 521.9,1185.0 C523.1,1194.8 526.2,1222.5 528.7,1238.0 C531.2,1253.5 534.3,1268.2 536.7,1278.0 C539.1,1287.8 542.2,1293.4 543.3,1296.5 C545.1,1294.5 550.9,1294.3 554.0,1284.6 C557.1,1274.8 559.3,1259.0 562.0,1238.0 C564.7,1217.0 568.8,1172.5 570.2,1158.4 C571.7,1144.3 570.2,1158.3 570.5,1153.5 C570.8,1148.7 571.5,1137.5 571.9,1129.5 C572.4,1121.5 572.9,1113.5 573.3,1105.5 C573.8,1097.5 574.3,1089.5 574.7,1081.5 C575.2,1073.5 575.6,1065.5 576.1,1057.5 C576.5,1049.5 577.0,1041.5 577.4,1033.5 C577.8,1025.5 578.3,1017.5 578.7,1009.5 C579.2,1001.5 579.6,993.5 580.0,985.5 C580.5,977.5 580.9,969.5 581.3,961.5 C581.8,953.5 582.2,945.5 582.6,937.5 C583.0,929.5 583.5,921.5 583.9,913.5 C584.3,905.5 584.7,897.5 585.1,889.5 C585.5,881.5 586.0,873.5 586.4,865.5 C586.8,857.5 587.2,849.5 587.6,841.5 C588.0,833.5 588.4,825.5 588.8,817.5 C589.2,809.5 589.6,801.5 590.0,793.5 C590.4,785.5 590.8,777.5 591.2,769.5 C591.6,761.5 592.0,753.5 592.4,745.5 C592.8,737.5 593.2,729.5 593.6,721.5 C594.0,713.5 594.4,705.5 594.7,697.5 C595.1,689.5 595.5,681.5 595.9,673.5 C596.3,665.5 596.7,657.5 597.1,649.5 C597.5,641.5 597.9,633.5 598.2,625.5 C598.6,617.5 599.0,609.5 599.4,601.5 C599.8,593.5 600.2,585.5 600.6,577.5 C601.0,569.5 601.4,561.5 601.8,553.5 C602.2,545.5 602.6,537.5 603.0,529.5 C603.4,521.5 603.8,513.5 604.2,505.5 C604.6,497.5 605.0,489.5 605.4,481.5 C605.8,473.5 606.2,465.5 606.6,457.5 C607.1,449.5 607.5,441.5 607.9,433.5 C608.4,425.5 608.8,417.5 609.2,409.5 C609.7,401.5 610.1,393.5 610.6,385.5 C611.1,377.5 611.6,369.5 612.1,361.5 C612.6,353.5 613.1,345.5 613.6,337.5 C614.1,329.5 614.8,320.5 615.3,313.5 C615.8,306.5 616.2,301.2 616.6,295.5 C617.1,289.8 617.5,284.5 618.0,279.5 C618.4,274.5 618.8,269.8 619.2,265.5 C619.7,261.2 620.1,257.2 620.5,253.5 C620.9,249.8 621.3,246.5 621.6,243.5 C622.0,240.5 622.4,237.8 622.7,235.5 C623.1,233.2 623.4,231.3 623.7,229.5 C624.0,227.7 624.3,226.0 624.6,224.5 C624.9,223.0 625.2,221.7 625.5,220.5 C625.8,219.3 626.1,218.3 626.4,217.5 C626.6,216.7 626.9,216.0 627.1,215.5 C627.4,215.0 627.4,214.8 627.7,214.5 C628.0,214.2 628.8,213.7 629.0,213.5 C629.3,213.7 630.2,214.2 630.6,214.5 C631.0,214.8 631.0,215.0 631.2,215.5 C631.5,216.0 631.8,216.7 632.1,217.5 C632.4,218.3 632.7,219.3 633.1,220.5 C633.4,221.7 633.7,223.0 634.0,224.5 C634.3,226.0 634.7,227.7 635.0,229.5 C635.3,231.3 635.6,233.2 635.9,235.5 C636.3,237.8 636.6,240.5 637.0,243.5 C637.4,246.5 637.8,249.8 638.1,253.5 C638.5,257.2 638.9,261.2 639.3,265.5 C639.7,269.8 640.1,274.5 640.5,279.5 C640.9,284.5 641.4,289.8 641.8,295.5 C642.2,301.2 642.6,306.5 643.1,313.5 C643.5,320.5 644.1,329.5 644.6,337.5 C645.1,345.5 645.6,353.5 646.0,361.5 C646.5,369.5 647.0,377.5 647.4,385.5 C647.9,393.5 648.3,401.5 648.7,409.5 C649.1,417.5 649.6,425.5 650.0,433.5 C650.4,441.5 650.8,449.5 651.2,457.5 C651.6,465.5 652.0,473.5 652.4,481.5 C652.8,489.5 653.2,497.5 653.6,505.5 C654.0,513.5 654.4,521.5 654.8,529.5 C655.2,537.5 655.6,545.5 656.0,553.5 C656.4,561.5 656.8,569.5 657.2,577.5 C657.6,585.5 657.9,593.5 658.3,601.5 C658.7,609.5 659.1,617.5 659.5,625.5 C659.9,633.5 660.3,641.5 660.7,649.5 C661.0,657.5 661.4,665.5 661.8,673.5 C662.2,681.5 662.6,689.5 663.0,697.5 C663.4,705.5 663.8,713.5 664.1,721.5 C664.5,729.5 664.9,737.5 665.3,745.5 C665.7,753.5 666.1,761.5 666.5,769.5 C666.9,777.5 667.3,785.5 667.7,793.5 C668.1,801.5 668.4,809.5 668.8,817.5 C669.2,825.5 669.6,833.5 670.0,841.5 C670.4,849.5 670.8,857.5 671.2,865.5 C671.6,873.5 672.0,881.5 672.4,889.5 C672.8,897.5 673.2,905.5 673.6,913.5 C674.0,921.5 674.4,929.5 674.8,937.5 C675.2,945.5 675.6,953.5 676.0,961.5 C676.4,969.5 676.8,977.5 677.2,985.5 C677.6,993.5 678.0,1001.5 678.4,1009.5 C678.8,1017.5 679.2,1025.5 679.6,1033.5 C680.0,1041.5 680.5,1049.5 680.9,1057.5 C681.3,1065.5 681.7,1073.5 682.1,1081.5 C682.5,1089.5 682.9,1097.5 683.3,1105.5 C683.7,1113.5 684.4,1125.1 684.6,1129.5 C684.8,1133.9 683.4,1113.7 684.7,1131.8 C686.0,1149.9 689.8,1208.5 692.1,1238.0 C694.4,1267.5 696.1,1288.7 698.5,1309.0 C700.9,1329.3 703.8,1343.0 706.5,1359.8 C709.2,1376.6 711.9,1398.0 715.0,1409.6 C718.1,1421.2 721.7,1422.2 725.0,1429.5 C728.3,1436.8 731.2,1447.1 734.9,1453.4 C738.5,1459.7 742.7,1463.4 746.9,1467.3 C751.1,1471.2 754.3,1474.8 760.0,1477.0 C765.7,1479.2 775.2,1479.6 781.2,1480.6 C787.2,1481.5 790.8,1482.3 796.1,1482.7 C801.4,1483.1 806.7,1483.6 813.1,1482.7 C819.5,1481.8 828.0,1479.5 834.4,1477.4 C840.8,1475.3 846.1,1472.0 851.4,1470.0 C856.7,1468.0 861.2,1466.2 866.2,1465.7 C871.2,1465.2 876.1,1465.7 881.1,1466.8 C886.1,1467.9 890.7,1470.1 896.0,1472.1 C901.3,1474.0 907.3,1476.7 913.0,1478.5 C918.7,1480.3 923.6,1481.8 930.0,1482.7 C936.4,1483.6 944.1,1483.6 951.2,1483.8 C958.3,1484.0 959.4,1483.9 972.5,1484.0 C985.6,1484.1 1020.3,1484.3 1029.9,1484.4" fill="none" stroke="#363630" stroke-width="5.2" stroke-linejoin="round"/>
<path d="M1029.9,1484.4 L1030.6,1468 L1033,1466.5 L1036,1470 L1045,1468.5 L1053.2,1469 L1061.7,1471 L1069.2,1475.3" fill="none" stroke="#363630" stroke-width="5" stroke-linejoin="round"/>
<g stroke="#000" stroke-width="3.2" fill="none">
<line x1="417.8" y1="329.5" x2="607.1" y2="460.2"/>
<line x1="352.1" y1="339.7" x2="426.8" y2="607.6"/>
<line x1="242.7" y1="1328.9" x2="205.4" y2="1467.0"/>
<line x1="887.6" y1="1156.8" x2="744.3" y2="1583.0"/>
<line x1="921.0" y1="1166.8" x2="877.9" y2="1585.8"/>
</g>
<rect x="164.9" y="54.0" width="905.8" height="1646.7" fill="none" stroke="#000" stroke-width="5.5" stroke-linejoin="round"/>
<g stroke="#000" stroke-width="4.2">
<line x1="203.2" y1="1700.7" x2="203.2" y2="1683.7"/>
<line x1="240.9" y1="1700.7" x2="240.9" y2="1683.7"/>
<line x1="278.6" y1="1700.7" x2="278.6" y2="1683.7"/>
<line x1="316.3" y1="1700.7" x2="316.3" y2="1669.7"/>
<line x1="354.0" y1="1700.7" x2="354.0" y2="1683.7"/>
<line x1="391.7" y1="1700.7" x2="391.7" y2="1683.7"/>
<line x1="429.4" y1="1700.7" x2="429.4" y2="1683.7"/>
<line x1="467.1" y1="1700.7" x2="467.1" y2="1669.7"/>
<line x1="504.9" y1="1700.7" x2="504.9" y2="1683.7"/>
<line x1="542.6" y1="1700.7" x2="542.6" y2="1683.7"/>
<line x1="580.3" y1="1700.7" x2="580.3" y2="1683.7"/>
<line x1="618.0" y1="1700.7" x2="618.0" y2="1669.7"/>
<line x1="655.7" y1="1700.7" x2="655.7" y2="1683.7"/>
<line x1="693.4" y1="1700.7" x2="693.4" y2="1683.7"/>
<line x1="731.1" y1="1700.7" x2="731.1" y2="1683.7"/>
<line x1="768.8" y1="1700.7" x2="768.8" y2="1669.7"/>
<line x1="806.6" y1="1700.7" x2="806.6" y2="1683.7"/>
<line x1="844.3" y1="1700.7" x2="844.3" y2="1683.7"/>
<line x1="882.0" y1="1700.7" x2="882.0" y2="1683.7"/>
<line x1="919.7" y1="1700.7" x2="919.7" y2="1669.7"/>
<line x1="957.4" y1="1700.7" x2="957.4" y2="1683.7"/>
<line x1="995.1" y1="1700.7" x2="995.1" y2="1683.7"/>
<line x1="1032.8" y1="1700.7" x2="1032.8" y2="1683.7"/>
</g>
<text x="272.02" y="1799.30" font-size="61.00" textLength="66.63" lengthAdjust="spacingAndGlyphs">40</text>
<text x="421.75" y="1796.20" font-size="61.00" textLength="65.81" lengthAdjust="spacingAndGlyphs">38</text>
<text x="568.35" y="1796.10" font-size="61.00" textLength="65.98" lengthAdjust="spacingAndGlyphs">36</text>
<text x="725.10" y="1793.60" font-size="61.00" textLength="64.50" lengthAdjust="spacingAndGlyphs">34</text>
<text x="876.45" y="1793.20" font-size="61.00" textLength="65.83" lengthAdjust="spacingAndGlyphs">32</text>
<text x="289.02" y="1890.50" font-size="69.50" textLength="602.02" lengthAdjust="spacingAndGlyphs">Binding Energy [eV]</text>
<text transform="translate(132.00,1215.70) rotate(-90)" x="-6.25" y="0" font-size="71.00" textLength="578.10" lengthAdjust="spacingAndGlyphs">Intensity (arb.units)</text>
<text x="289.48" y="134.00" font-size="68.20" font-weight="bold" textLength="36.88" lengthAdjust="spacingAndGlyphs">2</text>
<text x="239.27" y="214.30" font-size="69.50" textLength="114.09" lengthAdjust="spacingAndGlyphs">WO</text>
<text x="352.42" y="214.30" font-size="40.00" textLength="24.52" lengthAdjust="spacingAndGlyphs">3</text>
<text x="217.50" y="293.60" font-size="67.50" textLength="180.74" lengthAdjust="spacingAndGlyphs">(99%)</text>
<text x="880.84" y="944.00" font-size="69.90" font-weight="bold">1</text>
<text x="837.47" y="1024.30" font-size="69.50" textLength="105.94" lengthAdjust="spacingAndGlyphs">WS</text>
<text x="943.00" y="1024.30" font-size="42.00" textLength="25.61" lengthAdjust="spacingAndGlyphs">2</text>
<text x="831.64" y="1103.80" font-size="68.00" textLength="141.75" lengthAdjust="spacingAndGlyphs">(1%)</text>
<text x="209.94" y="1231.70" font-size="57.80" textLength="90.88" lengthAdjust="spacingAndGlyphs">WO</text>
<text x="300.52" y="1231.70" font-size="31.50" textLength="18.77" lengthAdjust="spacingAndGlyphs">3</text>
<text x="189.76" y="1295.20" font-size="56.50" textLength="149.04" lengthAdjust="spacingAndGlyphs">5p 3/2</text>
<text x="854.22" y="153.70" font-size="86.90" font-weight="bold" textLength="177.60" lengthAdjust="spacingAndGlyphs">W 4f</text>
<text x="178.06" y="1657.50" font-size="74.10" font-weight="bold" textLength="91.39" lengthAdjust="spacingAndGlyphs">(a)</text>
<path d="M1196.0,1537.4 C1200.0,1537.6 1212.5,1538.4 1219.8,1538.4 C1227.1,1538.4 1234.6,1537.8 1240.0,1537.5 C1245.4,1537.2 1248.3,1537.0 1252.0,1536.5 C1255.7,1536.0 1259.3,1535.4 1262.0,1534.3 C1264.7,1533.2 1266.3,1532.0 1268.0,1530.0 C1269.7,1528.0 1270.8,1526.2 1272.0,1522.5 C1273.2,1518.8 1274.4,1513.5 1275.3,1508.0 C1276.2,1502.5 1276.7,1501.0 1277.6,1489.6 C1278.5,1478.2 1279.8,1456.4 1280.6,1439.8 C1281.4,1423.2 1281.8,1430.0 1282.6,1390.0 C1283.4,1350.0 1284.5,1271.7 1285.5,1200.0 C1286.5,1128.3 1287.8,1035.0 1288.4,960.0 C1289.0,885.0 1289.0,816.7 1289.3,750.0 C1289.6,683.3 1289.9,618.3 1290.2,560.0 C1290.5,501.7 1290.8,451.7 1291.1,400.0 C1291.4,348.3 1291.5,288.2 1291.8,250.0 C1292.1,211.8 1292.5,170.5 1292.8,170.5 C1293.1,170.5 1293.5,211.8 1293.8,250.0 C1294.1,288.2 1294.3,348.3 1294.5,400.0 C1294.7,451.7 1295.0,501.7 1295.2,560.0 C1295.4,618.3 1295.5,683.3 1295.6,750.0 C1295.7,816.7 1295.7,885.0 1296.0,960.0 C1296.3,1035.0 1297.1,1128.3 1297.5,1200.0 C1297.9,1271.7 1298.1,1350.0 1298.4,1390.0 C1298.7,1430.0 1298.8,1423.2 1299.5,1439.8 C1300.2,1456.4 1301.5,1477.9 1302.5,1489.6 C1303.5,1501.3 1304.2,1504.3 1305.2,1510.0 C1306.2,1515.7 1307.2,1519.9 1308.5,1523.5 C1309.8,1527.1 1311.1,1529.4 1313.0,1531.5 C1314.9,1533.6 1315.6,1534.7 1320.0,1536.0 C1324.4,1537.3 1329.5,1538.6 1339.4,1539.4 C1349.3,1540.2 1364.1,1540.9 1379.2,1541.0 C1394.3,1541.1 1413.2,1540.3 1430.0,1540.0 C1446.8,1539.7 1460.3,1539.9 1480.0,1539.4 C1499.7,1538.9 1531.3,1537.4 1548.0,1537.2 C1564.7,1537.0 1570.8,1538.2 1580.0,1538.5 C1589.2,1538.8 1598.7,1539.1 1603.0,1539.2 C1607.3,1539.3 1605.0,1539.3 1606.0,1539.3 C1607.0,1539.2 1608.0,1539.4 1609.0,1539.0 C1610.0,1538.6 1611.0,1538.6 1612.0,1537.0 C1613.0,1535.5 1614.0,1533.6 1615.0,1529.5 C1616.0,1525.5 1617.0,1519.1 1618.0,1512.7 C1619.0,1506.4 1620.0,1496.6 1621.0,1491.4 C1622.0,1486.2 1623.0,1481.4 1624.0,1481.6 C1625.0,1481.9 1626.0,1487.4 1627.0,1492.9 C1628.0,1498.4 1629.0,1508.3 1630.0,1514.7 C1631.0,1521.0 1632.0,1527.2 1633.0,1531.1 C1634.0,1535.0 1635.0,1536.8 1636.0,1538.3 C1637.0,1539.9 1638.0,1539.9 1639.0,1540.4 C1640.0,1540.8 1641.0,1540.7 1642.0,1540.8 C1643.0,1540.9 1642.0,1540.8 1645.0,1541.0 C1648.0,1541.2 1652.1,1541.5 1660.0,1541.8 C1667.9,1542.1 1684.2,1542.8 1692.5,1542.6 C1700.8,1542.4 1704.7,1541.0 1710.0,1540.5 C1715.3,1540.0 1719.4,1539.5 1724.4,1539.8 C1729.4,1540.0 1734.7,1541.2 1740.0,1542.0 C1745.3,1542.8 1746.2,1544.1 1756.2,1544.7 C1766.2,1545.3 1786.0,1545.9 1800.0,1545.8 C1814.0,1545.7 1829.5,1545.0 1840.0,1544.0 C1850.5,1543.0 1856.1,1540.2 1862.8,1540.1 C1869.5,1540.0 1874.2,1542.4 1880.0,1543.5 C1885.8,1544.6 1887.5,1546.3 1897.5,1546.8 C1907.5,1547.3 1931.2,1546.5 1940.0,1546.4 C1948.8,1546.3 1947.8,1546.3 1950.0,1546.3 C1952.2,1546.2 1952.0,1546.4 1953.0,1546.1 C1954.0,1545.9 1955.0,1545.8 1956.0,1544.7 C1957.0,1543.6 1958.0,1541.9 1959.0,1539.7 C1960.0,1537.4 1961.0,1533.3 1962.0,1531.3 C1963.0,1529.3 1964.0,1527.3 1965.0,1527.7 C1966.0,1528.0 1967.0,1531.3 1968.0,1533.6 C1969.0,1535.9 1970.0,1539.7 1971.0,1541.7 C1972.0,1543.7 1973.0,1544.8 1974.0,1545.7 C1975.0,1546.5 1976.0,1546.4 1977.0,1546.6 C1978.0,1546.8 1977.0,1546.7 1980.0,1546.8 C1983.0,1546.9 1988.3,1547.1 1995.0,1547.2 C2001.7,1547.3 2009.5,1547.7 2020.3,1547.6 C2031.1,1547.5 2048.9,1547.1 2060.0,1546.5 C2071.1,1545.9 2080.5,1545.0 2087.0,1544.2 C2093.5,1543.4 2097.0,1542.0 2099.0,1541.5" fill="none" stroke="#0000a8" stroke-width="6.5" stroke-linejoin="round" stroke-linecap="round"/>
<rect x="1194.0" y="52.0" width="908.0" height="1652.0" fill="none" stroke="#000" stroke-width="5.5" stroke-linejoin="round"/>
<g stroke="#000" stroke-width="4.2">
<line x1="1216.7" y1="1704.0" x2="1216.7" y2="1686.0"/>
<line x1="1239.3" y1="1704.0" x2="1239.3" y2="1686.0"/>
<line x1="1262.0" y1="1704.0" x2="1262.0" y2="1686.0"/>
<line x1="1284.7" y1="1704.0" x2="1284.7" y2="1686.0"/>
<line x1="1307.4" y1="1704.0" x2="1307.4" y2="1686.0"/>
<line x1="1330.0" y1="1704.0" x2="1330.0" y2="1686.0"/>
<line x1="1352.7" y1="1704.0" x2="1352.7" y2="1686.0"/>
<line x1="1375.4" y1="1704.0" x2="1375.4" y2="1686.0"/>
<line x1="1398.1" y1="1704.0" x2="1398.1" y2="1686.0"/>
<line x1="1420.8" y1="1704.0" x2="1420.8" y2="1667.0"/>
<line x1="1443.4" y1="1704.0" x2="1443.4" y2="1686.0"/>
<line x1="1466.1" y1="1704.0" x2="1466.1" y2="1686.0"/>
<line x1="1488.8" y1="1704.0" x2="1488.8" y2="1686.0"/>
<line x1="1511.5" y1="1704.0" x2="1511.5" y2="1686.0"/>
<line x1="1534.1" y1="1704.0" x2="1534.1" y2="1686.0"/>
<line x1="1556.8" y1="1704.0" x2="1556.8" y2="1686.0"/>
<line x1="1579.5" y1="1704.0" x2="1579.5" y2="1686.0"/>
<line x1="1602.2" y1="1704.0" x2="1602.2" y2="1686.0"/>
<line x1="1624.8" y1="1704.0" x2="1624.8" y2="1686.0"/>
<line x1="1647.5" y1="1704.0" x2="1647.5" y2="1667.0"/>
<line x1="1670.2" y1="1704.0" x2="1670.2" y2="1686.0"/>
<line x1="1692.8" y1="1704.0" x2="1692.8" y2="1686.0"/>
<line x1="1715.5" y1="1704.0" x2="1715.5" y2="1686.0"/>
<line x1="1738.2" y1="1704.0" x2="1738.2" y2="1686.0"/>
<line x1="1760.9" y1="1704.0" x2="1760.9" y2="1686.0"/>
<line x1="1783.6" y1="1704.0" x2="1783.6" y2="1686.0"/>
<line x1="1806.2" y1="1704.0" x2="1806.2" y2="1686.0"/>
<line x1="1828.9" y1="1704.0" x2="1828.9" y2="1686.0"/>
<line x1="1851.6" y1="1704.0" x2="1851.6" y2="1686.0"/>
<line x1="1874.2" y1="1704.0" x2="1874.2" y2="1667.0"/>
<line x1="1896.9" y1="1704.0" x2="1896.9" y2="1686.0"/>
<line x1="1919.6" y1="1704.0" x2="1919.6" y2="1686.0"/>
<line x1="1942.3" y1="1704.0" x2="1942.3" y2="1686.0"/>
<line x1="1965.0" y1="1704.0" x2="1965.0" y2="1686.0"/>
<line x1="1987.6" y1="1704.0" x2="1987.6" y2="1686.0"/>
<line x1="2010.3" y1="1704.0" x2="2010.3" y2="1686.0"/>
<line x1="2033.0" y1="1704.0" x2="2033.0" y2="1686.0"/>
<line x1="2055.7" y1="1704.0" x2="2055.7" y2="1686.0"/>
<line x1="2078.3" y1="1704.0" x2="2078.3" y2="1686.0"/>
</g>
<text x="1162.23" y="1791.50" font-size="60.50" textLength="63.93" lengthAdjust="spacingAndGlyphs">10</text>
<text x="1386.71" y="1791.50" font-size="60.50" textLength="66.43" lengthAdjust="spacingAndGlyphs">20</text>
<text x="1614.78" y="1791.50" font-size="60.50" textLength="65.13" lengthAdjust="spacingAndGlyphs">30</text>
<text x="1840.00" y="1792.20" font-size="60.50" textLength="67.90" lengthAdjust="spacingAndGlyphs">40</text>
<text x="2067.17" y="1792.20" font-size="60.50" textLength="67.62" lengthAdjust="spacingAndGlyphs">50</text>
<text x="1507.88" y="1874.10" font-size="70.00" textLength="297.66" lengthAdjust="spacingAndGlyphs">2Theta [°]</text>
<text transform="translate(1146.10,1217.60) rotate(-90)" x="-6.27" y="0" font-size="70.50" textLength="579.12" lengthAdjust="spacingAndGlyphs">Intensity (arb.units)</text>
<text x="1216.99" y="1657.50" font-size="73.70" font-weight="bold" textLength="97.31" lengthAdjust="spacingAndGlyphs">(b)</text>
<text x="1273.93" y="151.69" font-size="95.00" font-weight="bold">*</text>
<text x="1604.33" y="1477.69" font-size="95.00" font-weight="bold">*</text>
<text x="1942.93" y="1504.39" font-size="95.00" font-weight="bold">*</text>
<text x="1741.23" y="1057.49" font-size="95.00" font-weight="bold">*</text>
<g stroke="#008c1e" stroke-width="10.5" stroke-dasharray="30.2 15.55">
<line x1="1675.8" y1="186.5" x2="1675.8" y2="754.8"/>
<line x1="1744.3" y1="231.4" x2="1744.3" y2="754.8"/>
<line x1="1859.3" y1="140.4" x2="1859.3" y2="754.8"/>
</g>
<path d="M1515,596.3 L1560,596 L1600,597 L1650,596.5 L1700,597 L1760,596 L1800,596.5 L1850,597 L1900,596.8 L1940,595.5 L1980,597.5 L2020,596.5 L2060,595.5 L2100,596.5" fill="none" stroke="#0000a8" stroke-width="12"/>
<g stroke="#000" stroke-width="4.5" fill="none">
<line x1="1513.0" y1="52.0" x2="1513.0" y2="756.8"/>
<line x1="1513.0" y1="756.8" x2="2102.0" y2="756.8"/>
</g>
<g stroke="#000" stroke-width="3.5">
<line x1="1584.2" y1="756.8" x2="1584.2" y2="747.8"/>
<line x1="1658.2" y1="756.8" x2="1658.2" y2="747.8"/>
<line x1="1732.1" y1="756.8" x2="1732.1" y2="747.8"/>
<line x1="1806.1" y1="756.8" x2="1806.1" y2="739.8"/>
<line x1="1880.1" y1="756.8" x2="1880.1" y2="747.8"/>
<line x1="1954.0" y1="756.8" x2="1954.0" y2="747.8"/>
<line x1="2028.0" y1="756.8" x2="2028.0" y2="747.8"/>
<line x1="1513.0" y1="304.1" x2="1522" y2="304.1"/>
<line x1="1513.0" y1="557" x2="1532" y2="557"/>
</g>
<text x="1477.18" y="828.00" font-size="61.00" textLength="69.46" lengthAdjust="spacingAndGlyphs">22</text>
<text x="1771.75" y="828.00" font-size="61.00" textLength="65.68" lengthAdjust="spacingAndGlyphs">24</text>
<text x="1833.15" y="1034.70" font-size="78.00" textLength="114.10" lengthAdjust="spacingAndGlyphs">WS</text>
<text x="1946.38" y="1053.60" font-size="49.00" textLength="29.15" lengthAdjust="spacingAndGlyphs">2</text>
<text x="1830.14" y="1142.30" font-size="76.70" textLength="122.24" lengthAdjust="spacingAndGlyphs">WO</text>
<text x="1953.16" y="1159.90" font-size="48.00" textLength="26.87" lengthAdjust="spacingAndGlyphs">3</text>
<g stroke="#008c1e" stroke-width="10"><line x1="1722.9" y1="1112.4" x2="1753.8" y2="1112.4"/><line x1="1768.7" y1="1112.4" x2="1799.6" y2="1112.4"/></g>
<rect x="390.1" y="2878" width="152.9" height="449.3" fill="#d3d3d3"/>
<rect x="848.6" y="2878" width="152.9" height="449.3" fill="#d3d3d3"/>
<rect x="1307.2" y="2878" width="152.9" height="449.3" fill="#d3d3d3"/>
<rect x="1765.8" y="2878" width="152.9" height="449.3" fill="#d3d3d3"/>
<g stroke="#000" stroke-width="5.8">
<line x1="697.0" y1="1972.0" x2="697.0" y2="3327.3"/>
<line x1="1153.6" y1="1972.0" x2="1153.6" y2="3327.3"/>
<line x1="1612.0" y1="1972.0" x2="1612.0" y2="3327.3"/>
</g>
<g fill="none" stroke="#ff0000" stroke-linejoin="round">
<path d="M238.0,2599.0 C240.0,2598.5 244.7,2597.1 250.0,2596.0 C255.3,2594.9 263.4,2593.5 270.0,2592.5 C276.6,2591.5 281.5,2590.9 289.8,2590.0 C298.1,2589.1 306.7,2588.1 320.0,2587.0 C333.3,2585.9 347.9,2584.5 369.4,2583.6 C390.9,2582.7 422.5,2582.3 449.1,2581.5 C475.7,2580.7 503.6,2579.8 528.8,2579.0 C553.9,2578.2 579.8,2577.6 600.0,2577.0 C620.2,2576.4 633.3,2576.0 650.0,2575.5 C666.7,2575.0 691.7,2574.4 700.0,2574.2" stroke-width="10"/>
<line x1="692.6" y1="2574" x2="692.6" y2="2742" stroke-width="2.4"/>
<path d="M691,2742 L850,2741.5 L939,2741.5 L1000,2741 L1100,2740.3 L1149.5,2739.5" stroke-width="9.5"/>
<path d="M939,2742 L940,2749" stroke-width="5"/>
<path d="M1147,2740 L1148.5,2758 L1148.5,2807" stroke-width="4"/>
<path d="M1145.0,2807.3 C1170.8,2807.3 1245.5,2807.3 1300.0,2807.3 C1354.5,2807.3 1432.0,2807.3 1472.0,2807.5 C1512.0,2807.7 1523.4,2808.2 1540.0,2808.5 C1556.6,2808.8 1563.3,2808.7 1571.6,2809.3 C1579.9,2809.9 1585.3,2810.9 1590.0,2812.0 C1594.7,2813.1 1597.0,2814.4 1600.0,2816.0 C1603.0,2817.6 1606.8,2820.5 1608.1,2821.4" stroke-width="9.5"/>
<path d="M1608,2818 L1617,2818" stroke-width="8"/>
<line x1="1616.2" y1="2818" x2="1616.2" y2="2985" stroke-width="3.5"/>
</g>
<g fill="#ff0000" stroke="none">
<rect x="1615.4" y="2980.4" width="5.1" height="7.3"/>
<rect x="1614.7" y="3004.5" width="6.6" height="8.0"/>
<rect x="1614.7" y="3016.9" width="8.0" height="8.0"/>
<rect x="1614.7" y="3030.0" width="9.5" height="8.0"/>
<rect x="1615.4" y="3044.6" width="10.2" height="27.8"/>
<rect x="1620.5" y="3136.7" width="12.5" height="10.2"/>
<rect x="1621.3" y="3148.4" width="10.2" height="32.1"/>
<rect x="1624.9" y="3180.5" width="6.6" height="22.5"/>
<path d="M1616.9,3079.7 L1626.1,3079.7 L1628.8,3133.7 L1621.3,3133.7 Z"/>
<line x1="1617" y1="2987" x2="1617" y2="3140" stroke="#ff0000" stroke-width="3"/>
</g>
<g fill="none" stroke="#ff0000" stroke-linejoin="round">
<path d="M1628.2,3199.0 C1628.7,3199.9 1629.2,3202.8 1631.0,3204.5 C1632.8,3206.2 1633.8,3207.4 1638.8,3209.5 C1643.8,3211.6 1650.5,3214.8 1660.7,3216.8 C1670.9,3218.8 1689.9,3220.4 1700.0,3221.4 C1710.1,3222.4 1710.0,3222.3 1721.3,3223.0 C1732.6,3223.7 1756.5,3225.0 1768.0,3225.6 C1779.5,3226.2 1781.6,3226.2 1790.0,3226.3 C1798.4,3226.4 1808.2,3226.6 1818.2,3226.3 C1828.2,3226.0 1839.2,3225.0 1850.0,3224.5 C1860.8,3224.0 1871.3,3223.1 1882.7,3223.2 C1894.1,3223.2 1906.6,3224.0 1918.6,3224.8 C1930.5,3225.6 1939.5,3227.3 1954.4,3228.2 C1969.3,3229.1 1989.0,3229.7 2008.2,3230.0 C2027.4,3230.3 2059.3,3230.2 2069.5,3230.2" stroke-width="9.5" stroke-linecap="round"/>
</g>
<rect x="262" y="2974.4" width="624.2" height="120.1" fill="#fff"/>
<rect x="310.1" y="3006.8" width="42.2" height="38.7" fill="#ff0000"/>
<text x="407.88" y="3045.50" font-size="62.60" textLength="427.83" lengthAdjust="spacingAndGlyphs">Amorphous WO</text>
<text x="834.37" y="3068.80" font-size="35.70" textLength="22.41" lengthAdjust="spacingAndGlyphs">3</text>
<rect x="237.2" y="1977.0" width="1834.8" height="1350.3" fill="none" stroke="#000" stroke-width="6" stroke-linejoin="round"/>
<g stroke="#000" stroke-width="4.2">
<line x1="313.6" y1="3327.3" x2="313.6" y2="3313.3"/>
<line x1="390.1" y1="3327.3" x2="390.1" y2="3313.3"/>
<line x1="466.5" y1="3327.3" x2="466.5" y2="3313.3"/>
<line x1="542.9" y1="3327.3" x2="542.9" y2="3313.3"/>
<line x1="619.3" y1="3327.3" x2="619.3" y2="3313.3"/>
<line x1="772.2" y1="3327.3" x2="772.2" y2="3313.3"/>
<line x1="848.6" y1="3327.3" x2="848.6" y2="3313.3"/>
<line x1="925.1" y1="3327.3" x2="925.1" y2="3313.3"/>
<line x1="1001.5" y1="3327.3" x2="1001.5" y2="3313.3"/>
<line x1="1077.9" y1="3327.3" x2="1077.9" y2="3313.3"/>
<line x1="1230.8" y1="3327.3" x2="1230.8" y2="3313.3"/>
<line x1="1307.2" y1="3327.3" x2="1307.2" y2="3313.3"/>
<line x1="1383.6" y1="3327.3" x2="1383.6" y2="3313.3"/>
<line x1="1460.1" y1="3327.3" x2="1460.1" y2="3313.3"/>
<line x1="1536.5" y1="3327.3" x2="1536.5" y2="3313.3"/>
<line x1="1689.4" y1="3327.3" x2="1689.4" y2="3313.3"/>
<line x1="1765.8" y1="3327.3" x2="1765.8" y2="3313.3"/>
<line x1="1842.2" y1="3327.3" x2="1842.2" y2="3313.3"/>
<line x1="1918.6" y1="3327.3" x2="1918.6" y2="3313.3"/>
<line x1="1995.1" y1="3327.3" x2="1995.1" y2="3313.3"/>
<line x1="237.2" y1="3212.8" x2="253.2" y2="3212.8"/>
<line x1="237.2" y1="3122.1" x2="253.2" y2="3122.1"/>
<line x1="237.2" y1="3057.7" x2="253.2" y2="3057.7"/>
<line x1="237.2" y1="3007.8" x2="253.2" y2="3007.8"/>
<line x1="237.2" y1="2967.1" x2="253.2" y2="2967.1"/>
<line x1="237.2" y1="2932.6" x2="253.2" y2="2932.6"/>
<line x1="237.2" y1="2902.7" x2="253.2" y2="2902.7"/>
<line x1="237.2" y1="2876.4" x2="253.2" y2="2876.4"/>
<line x1="237.2" y1="2852.8" x2="267.2" y2="2852.8"/>
<line x1="237.2" y1="2697.8" x2="253.2" y2="2697.8"/>
<line x1="237.2" y1="2607.1" x2="253.2" y2="2607.1"/>
<line x1="237.2" y1="2542.7" x2="253.2" y2="2542.7"/>
<line x1="237.2" y1="2492.8" x2="253.2" y2="2492.8"/>
<line x1="237.2" y1="2452.1" x2="253.2" y2="2452.1"/>
<line x1="237.2" y1="2417.6" x2="253.2" y2="2417.6"/>
<line x1="237.2" y1="2387.7" x2="253.2" y2="2387.7"/>
<line x1="237.2" y1="2361.4" x2="253.2" y2="2361.4"/>
<line x1="237.2" y1="2337.8" x2="267.2" y2="2337.8"/>
<line x1="237.2" y1="2182.8" x2="253.2" y2="2182.8"/>
<line x1="237.2" y1="2092.1" x2="253.2" y2="2092.1"/>
<line x1="237.2" y1="2027.7" x2="253.2" y2="2027.7"/>
</g>
<text x="216.63" y="3408.30" font-size="65.00" textLength="38.05" lengthAdjust="spacingAndGlyphs">0</text>
<text x="639.60" y="3408.30" font-size="65.00" textLength="109.90" lengthAdjust="spacingAndGlyphs">360</text>
<text x="1096.56" y="3408.30" font-size="65.00" textLength="112.61" lengthAdjust="spacingAndGlyphs">720</text>
<text x="1539.46" y="3408.30" font-size="65.00" textLength="144.62" lengthAdjust="spacingAndGlyphs">1080</text>
<text x="1997.28" y="3408.30" font-size="65.00" textLength="150.00" lengthAdjust="spacingAndGlyphs">1440</text>
<text x="113.77" y="2361.20" font-size="67.50" textLength="72.18" lengthAdjust="spacingAndGlyphs">10</text>
<text x="186.89" y="2324.80" font-size="40.00" textLength="21.00" lengthAdjust="spacingAndGlyphs">5</text>
<text x="113.53" y="2877.20" font-size="67.50" textLength="72.74" lengthAdjust="spacingAndGlyphs">10</text>
<text x="185.83" y="2840.60" font-size="40.50" textLength="21.08" lengthAdjust="spacingAndGlyphs">4</text>
<text x="969.44" y="3491.80" font-size="82.00" textLength="370.03" lengthAdjust="spacingAndGlyphs">Time [min]</text>
<text transform="translate(95.50,2963.30) rotate(-90)" x="-6.53" y="0" font-size="81.00" textLength="438.12" lengthAdjust="spacingAndGlyphs">Resistance [</text>
<text transform="translate(95.5,2529) rotate(-90)" x="-3.89" y="0" font-size="77" font-family="Liberation Serif, serif" textLength="80.43" lengthAdjust="spacingAndGlyphs">Ω]</text>
<text x="255.50" y="3239.10" font-size="80.60" font-weight="bold" textLength="102.72" lengthAdjust="spacingAndGlyphs">(c)</text>
<text x="401.08" y="2088.40" font-size="71.00" textLength="157.32" lengthAdjust="spacingAndGlyphs">25°C</text>
<text x="844.21" y="2087.50" font-size="71.00" textLength="155.66" lengthAdjust="spacingAndGlyphs">50°C</text>
<text x="1303.05" y="2085.00" font-size="71.00" textLength="192.71" lengthAdjust="spacingAndGlyphs">100°C</text>
<text x="1733.04" y="2080.00" font-size="71.00" textLength="193.02" lengthAdjust="spacingAndGlyphs">150°C</text>
<text x="422.32" y="2315.00" font-size="58.00" textLength="83.76" lengthAdjust="spacingAndGlyphs">NO</text>
<text x="504.59" y="2336.30" font-size="33.00" textLength="19.03" lengthAdjust="spacingAndGlyphs">2</text>
<text x="375.17" y="2399.80" font-size="56.00" textLength="195.89" lengthAdjust="spacingAndGlyphs">800 ppb</text>
<line x1="465.9" y1="2430.3" x2="465.9" y2="2479.1" stroke="#000" stroke-width="3.5"/>
<path d="M456.6,2477.1 L475.2,2477.1 L465.9,2512.0 Z" fill="#000"/>
<text x="885.52" y="2311.80" font-size="58.00" textLength="83.76" lengthAdjust="spacingAndGlyphs">NO</text>
<text x="966.49" y="2333.40" font-size="33.00" textLength="19.03" lengthAdjust="spacingAndGlyphs">2</text>
<text x="837.56" y="2397.00" font-size="56.00" textLength="196.71" lengthAdjust="spacingAndGlyphs">800 ppb</text>
<line x1="930.3" y1="2423.3" x2="930.3" y2="2471.6" stroke="#000" stroke-width="3.5"/>
<path d="M921.0,2469.6 L939.6,2469.6 L930.3,2505.4 Z" fill="#000"/>
<text x="1345.52" y="2312.60" font-size="58.00" textLength="83.76" lengthAdjust="spacingAndGlyphs">NO</text>
<text x="1427.29" y="2334.00" font-size="33.00" textLength="19.03" lengthAdjust="spacingAndGlyphs">2</text>
<text x="1298.36" y="2398.20" font-size="56.00" textLength="196.61" lengthAdjust="spacingAndGlyphs">800 ppb</text>
<line x1="1391.1" y1="2424.1" x2="1391.1" y2="2472.4" stroke="#000" stroke-width="3.5"/>
<path d="M1381.8,2470.4 L1400.4,2470.4 L1391.1,2506.2 Z" fill="#000"/>
<text x="1808.42" y="2309.80" font-size="58.00" textLength="83.76" lengthAdjust="spacingAndGlyphs">NO</text>
<text x="1890.49" y="2331.20" font-size="33.00" textLength="19.03" lengthAdjust="spacingAndGlyphs">2</text>
<text x="1761.57" y="2394.60" font-size="56.00" textLength="195.79" lengthAdjust="spacingAndGlyphs">800 ppb</text>
<line x1="1853.9" y1="2421.3" x2="1853.9" y2="2469.5" stroke="#000" stroke-width="3.5"/>
<path d="M1844.6,2467.5 L1863.2,2467.5 L1853.9,2502.6 Z" fill="#000"/>
<rect x="66.5" y="826" width="3.5" height="3.5" fill="#b0b0b0"/>
</svg></body></html>
